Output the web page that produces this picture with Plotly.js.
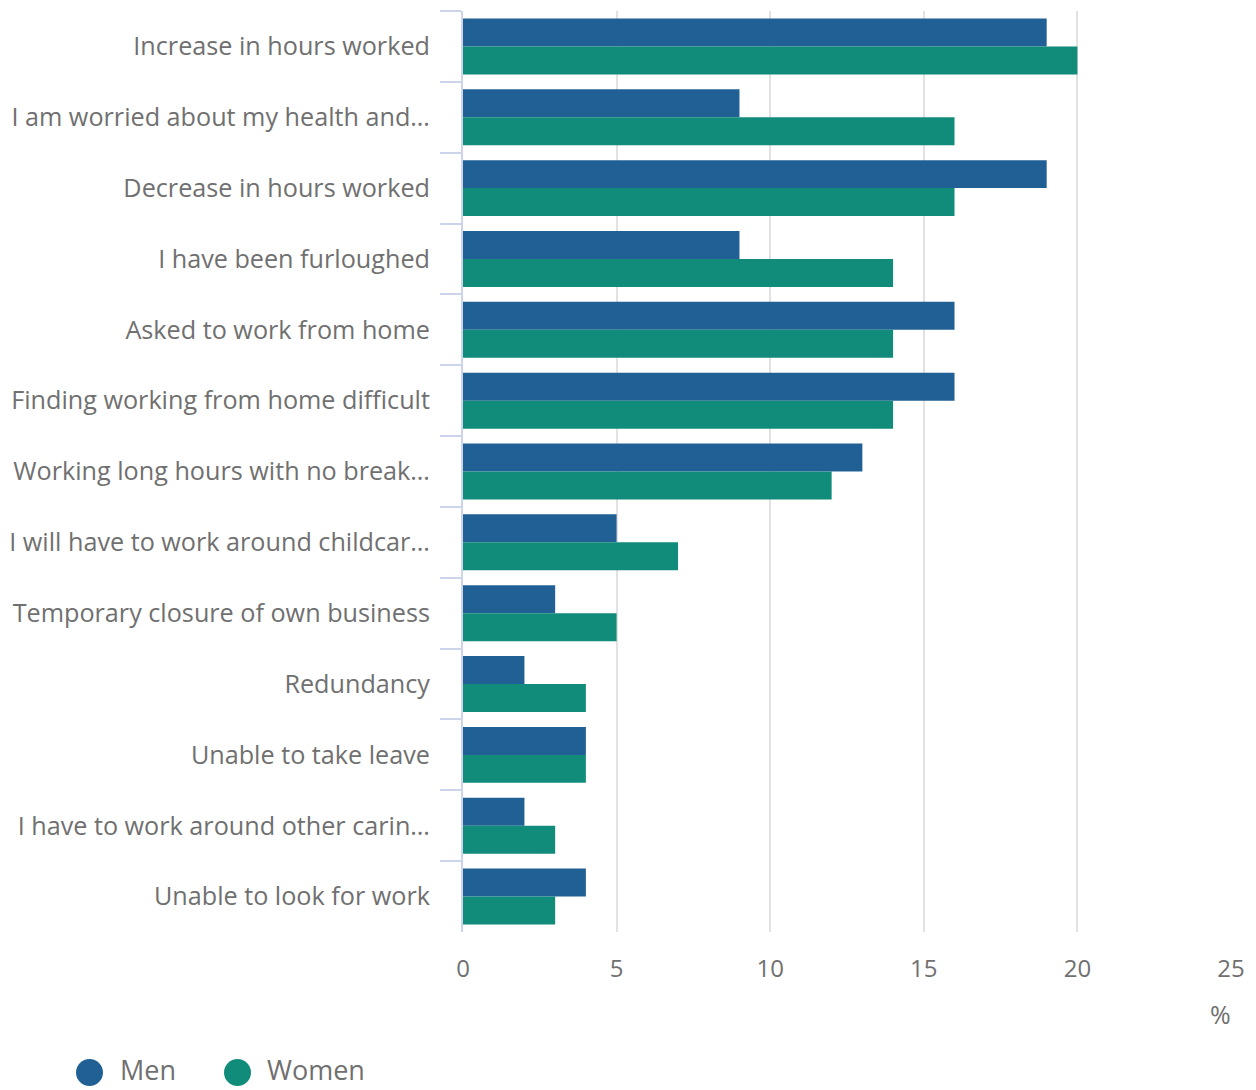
<!DOCTYPE html>
<html>
<head>
<meta charset="utf-8">
<script src="https://cdn.plot.ly/plotly-3.0.1.min.js"></script>
<style>html,body{margin:0;padding:0;background:#fff;}#chart{width:1256px;height:1090px;}</style>
</head>
<body>
<div id="chart"></div>
<script>
var categories = [
  "Increase in hours worked",
  "I am worried about my health and…",
  "Decrease in hours worked",
  "I have been furloughed",
  "Asked to work from home",
  "Finding working from home difficult",
  "Working long hours with no break…",
  "I will have to work around childcar…",
  "Temporary closure of own business",
  "Redundancy",
  "Unable to take leave",
  "I have to work around other carin…",
  "Unable to look for work"
];
var men =   [19, 9, 19, 9, 16, 16, 13, 5, 3, 2, 4, 2, 4];
var women = [20, 16, 16, 14, 14, 14, 12, 7, 5, 4, 4, 3, 3];
var xTicks = [0, 5, 10, 15, 20, 25];
var seriesNames = ["Men", "Women"];

var menColor = "#206095";
var womenColor = "#118c7b";
var textColor = "#707070";

var traces = [
  {type: "bar", orientation: "h", name: seriesNames[0], y: categories, x: men,
   marker: {color: menColor}, showlegend: false},
  {type: "bar", orientation: "h", name: seriesNames[1], y: categories, x: women,
   marker: {color: womenColor}, showlegend: false}
];

// plot area: x 463..1231, y 11..932 (px) -> paper helpers for legend placement
function px(x) { return (x - 463) / 768; }
function py(y) { return (932 - y) / 921; }

var legendItems = [
  {name: seriesNames[0], color: menColor, cx: 89.5, tx: 119},
  {name: seriesNames[1], color: womenColor, cx: 237.5, tx: 266}
];
var legendCy = 1072.5, legendR = 13.5;

var shapes = legendItems.map(function (it) {
  return {type: "circle", xref: "paper", yref: "paper",
    x0: px(it.cx - legendR), x1: px(it.cx + legendR),
    y0: py(legendCy + legendR), y1: py(legendCy - legendR),
    fillcolor: it.color, line: {width: 0}};
});
var annotations = legendItems.map(function (it) {
  return {text: it.name, xref: "paper", yref: "paper", x: px(it.tx), y: py(1089),
    xanchor: "left", yanchor: "bottom", showarrow: false, borderpad: 0,
    font: {size: 27, color: textColor}};
});
annotations.push({text: "%", xref: "paper", yref: "paper", x: px(1220), y: py(1014),
  showarrow: false, xanchor: "center", yanchor: "middle",
  font: {size: 25, color: textColor}});

var layout = {
  width: 1256, height: 1090,
  margin: {l: 463, r: 25, t: 11, b: 158, pad: 0},
  paper_bgcolor: "#ffffff", plot_bgcolor: "#ffffff",
  font: {family: "Open Sans, sans-serif", color: textColor, size: 25},
  showlegend: false,
  barmode: "group", bargap: 0.21, bargroupgap: 0,
  xaxis: {
    range: [0, 25], tickvals: xTicks, ticktext: xTicks.map(String),
    showgrid: true, gridcolor: "#e2e2e2", gridwidth: 2,
    zeroline: false, showline: false, ticks: "",
    ticklabelstandoff: 20,
    tickfont: {size: 24, color: textColor}, fixedrange: true
  },
  yaxis: {
    type: "category", autorange: "reversed",
    showline: true, linecolor: "#ccd4ec", linewidth: 2,
    ticks: "outside", tickson: "boundaries", ticklen: 21, tickwidth: 2, tickcolor: "#ccd4ec",
    ticklabelstandoff: 26,
    showgrid: false, zeroline: false,
    tickfont: {size: 25.2, color: textColor}, fixedrange: true
  },
  shapes: shapes,
  annotations: annotations
};

Plotly.newPlot("chart", traces, layout, {displayModeBar: false, staticPlot: true});
</script>
</body>
</html>
